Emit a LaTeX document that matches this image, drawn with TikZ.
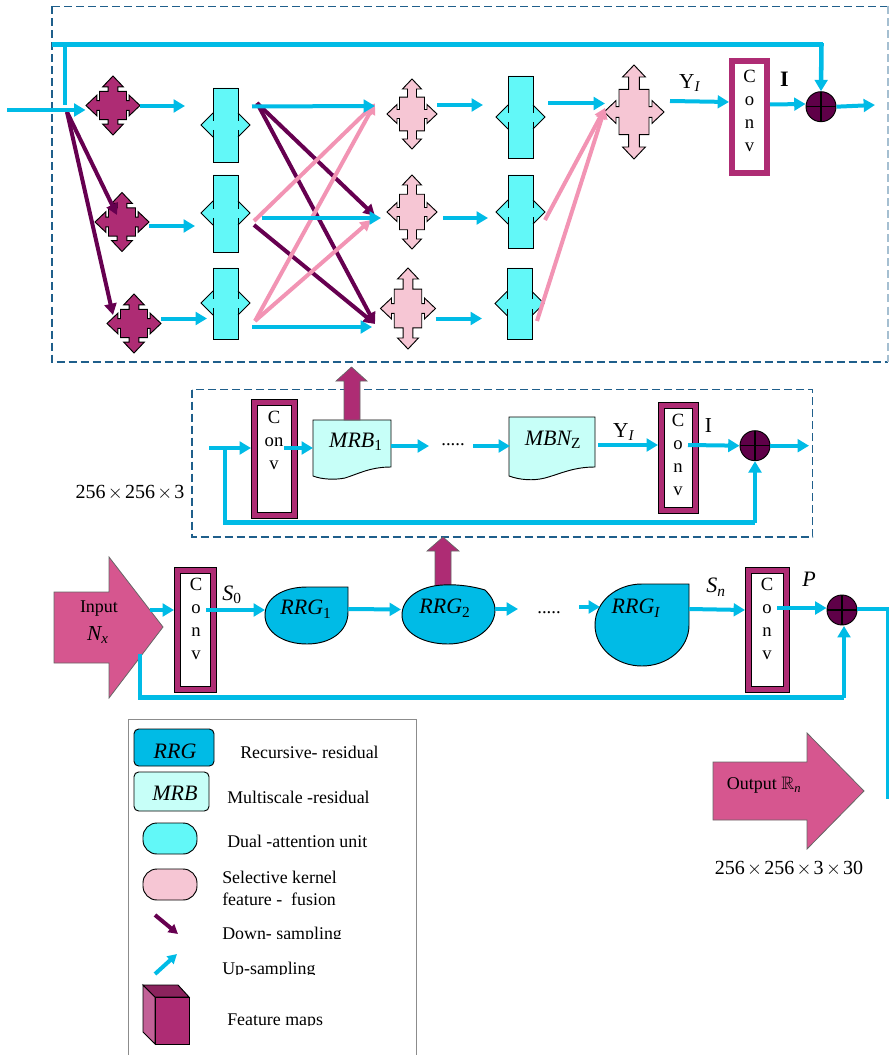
\documentclass[tikz,border=0pt]{standalone}
\usepackage{amsmath,amssymb}
\usepackage{fontspec}
\setmainfont{Liberation Serif}
\usetikzlibrary{arrows.meta,positioning,calc}
\definecolor{cyanc}{HTML}{00BBE6}
\definecolor{downc}{HTML}{660050}
\definecolor{fusc}{HTML}{F294B4}
\definecolor{convc}{HTML}{AE2C74}
\definecolor{pinkc}{HTML}{F6C6D4}
\definecolor{dualc}{HTML}{62F8F8}
\definecolor{docc}{HTML}{C7FFF8}
\definecolor{ioc}{HTML}{D6568F}
\definecolor{sumc}{HTML}{5F0048}
\definecolor{dashc}{HTML}{1F5F8B}
\newcommand{\quadarrow}[6]{%
  \pgfmathsetmacro\qbx{.5*#4}\pgfmathsetmacro\qby{.48*#5}%
  \pgfmathsetmacro\qh{.38*#4}\pgfmathsetmacro\qs{.18*#4}%
  \pgfmathsetmacro\qcx{.6*#4}\pgfmathsetmacro\qcy{#5-.4*#4}%
  \begin{scope}[shift={(#2,#3)}]
    \draw[fill=#6,line width=0.7pt,line join=miter] (0,-#5) -- (\qh,-\qcy) -- (\qs,-\qcy) -- (\qs,-\qby) -- (\qbx,-\qby) -- (\qbx,-\qs) -- (\qcx,-\qs) -- (\qcx,-\qh) -- (#4,0) -- (\qcx,\qh) -- (\qcx,\qs) -- (\qbx,\qs) -- (\qbx,\qby) -- (\qs,\qby) -- (\qs,\qcy) -- (\qh,\qcy) -- (0,#5) -- (-\qh,\qcy) -- (-\qs,\qcy) -- (-\qs,\qby) -- (-\qbx,\qby) -- (-\qbx,\qs) -- (-\qcx,\qs) -- (-\qcx,\qh) -- (-#4,0) -- (-\qcx,-\qh) -- (-\qcx,-\qs) -- (-\qbx,-\qs) -- (-\qbx,-\qby) -- (-\qs,-\qby) -- (-\qs,-\qcy) -- (-\qh,-\qcy) -- cycle;
    \node[inner sep=0pt,outer sep=0pt,minimum width={2*#4*0.75pt},minimum height={2*#5*0.75pt}] (#1) at (0,0) {};
  \end{scope}}
\newcommand{\dualunit}[5]{%
  \fill[dualc] ({#2-12.5},#3) -- ({#2+12.5},#3) -- ({#2+12.5},{#5-12}) -- ({#2+24.5},#5) -- ({#2+12.5},{#5+12}) -- ({#2+12.5},#4) -- ({#2-12.5},#4) -- ({#2-12.5},{#5+12}) -- ({#2-24.5},#5) -- ({#2-12.5},{#5-12}) -- cycle;
  \draw[line width=0.7pt] ({#2-12.5},{#5-4}) -- ({#2-12.5},#3) -- ({#2+12.5},#3) -- ({#2+12.5},{#5-4});
  \draw[line width=0.7pt] ({#2-12.5},{#5+5}) -- ({#2-12.5},#4) -- ({#2+12.5},#4) -- ({#2+12.5},{#5+5});
  \draw[line width=0.7pt] ({#2-12.5},{#5-12}) -- ({#2-24.5},#5) -- ({#2-12.5},{#5+12});
  \draw[line width=0.7pt] ({#2+12.5},{#5-12}) -- ({#2+24.5},#5) -- ({#2+12.5},{#5+12});
  \node[inner sep=0pt,outer sep=0pt,minimum width=36.75pt,minimum height={(#4-#3)*0.75pt}] (#1) at (#2,{(#3+#4)/2}) {};}
\newcommand{\tms}{\kern1.7pt$\times$\kern1.7pt}
\begin{document}
\begin{tikzpicture}[x=0.75pt,y=-0.75pt,
    upa/.style={draw=cyanc,line width=3pt,-{Triangle[length=8.5pt,width=9.5pt]}},
    bus/.style={draw=cyanc,line width=3.4pt},
    busa/.style={bus,-{Triangle[length=8.5pt,width=9.5pt]}},
    downa/.style={draw=downc,line width=3pt,-{Triangle[length=8.5pt,width=9pt]}},
    fusa/.style={draw=fusc,line width=3pt,-{Triangle[length=8pt,width=8.5pt]}},
    dashbox/.style={draw=dashc,line width=0.8pt,dash pattern=on 6pt off 3pt},
    convbox/.style 2 args={draw=black,line width=0.5pt,double=convc,double distance=4pt,fill=white,outer sep=2.5pt,inner sep=0pt,minimum width={(#1-6.67)*0.75pt},minimum height={(#2-6.67)*0.75pt}},
    convtop/.style={draw=convc,line width=4.5pt,fill=white,inner sep=0pt,outer sep=2.25pt,minimum width=26.25pt,minimum height=84pt},
    convtxt/.style={align=center,inner sep=0pt,font=\fontsize{14}{17.3}\selectfont},
    sumnode/.style={circle,draw,line width=0.7pt,fill=sumc,minimum size=22.5pt,inner sep=0pt,path picture={\draw[line width=1pt] (path picture bounding box.north) -- (path picture bounding box.south) (path picture bounding box.west) -- (path picture bounding box.east);}},
    feat/.style={draw=black!60,line width=0.5pt,fill=convc},
    blob/.style={draw,line width=0.7pt,fill=cyanc},
    doc/.style={draw,line width=0.7pt,fill=docc},
    ioarrow/.style={draw=black!60,line width=0.6pt,fill=ioc},
    bigit/.style={inner sep=0pt,font=\fontsize{16.5}{18}\selectfont\itshape},
    lbl/.style={inner sep=0pt,font=\fontsize{13}{15}\selectfont},
    lgd/.style={lbl,anchor=west,align=left,font=\fontsize{13.4}{17}\selectfont},
    num/.style={inner sep=0pt,font=\fontsize{15}{16}\selectfont},
    tag/.style={inner sep=0pt,font=\fontsize{16}{17}\selectfont},
    legbox/.style={draw,line width=0.7pt,inner sep=0pt}]
  \useasboundingbox (0,0) rectangle (889,1055);

  % top block
  \draw[dashbox] (52,6.5) -- (888,6.5);
  \draw[dashbox] (52,6.5) -- (52,362) -- (888,362);
  \draw[dashbox,draw=dashc!40] (888,6.5) -- (888,362);
  \quadarrow{qa1}{113}{105.5}{27}{29.5}{convc}
  \quadarrow{qa2}{122}{222}{27}{29.5}{convc}
  \quadarrow{qa3}{134}{323.5}{27}{29.5}{convc}
  \dualunit{da1}{225.5}{88}{162}{125}
  \dualunit{da2}{225.5}{175}{252}{213}
  \dualunit{da3}{225.5}{268}{339}{303}
  \quadarrow{qb1}{412}{114}{25}{35}{pinkc}
  \quadarrow{qb2}{412}{212}{25}{37}{pinkc}
  \quadarrow{qb3}{408}{308.5}{27.5}{40.5}{pinkc}
  \dualunit{db1}{520.5}{76}{158}{117}
  \dualunit{db2}{520.5}{175}{248}{212}
  \dualunit{db3}{519.5}{268}{339}{303.5}
  \quadarrow{qc}{634}{112}{30}{47}{pinkc}
  \node[convtop] (conva) at (749.5,117) {};
  \node[convtxt,anchor=north] (convat) at (749.5,70) {C\\o\\n\\v};
  \node[sumnode] (suma) at (821,106.7) {};
  \node[tag] (ya) at (690,83) {Y\textsubscript{\textit{I}}};
  \node[inner sep=0pt,font=\fontsize{16.5}{18}\selectfont\bfseries] (ia) at (784.5,79) {I};

  \coordinate (ina) at (7,110);
  \coordinate (inb) at (85.5,110);
  \coordinate (bus0) at (52,44.5);
  \coordinate (bus1) at (65,44.5);
  \coordinate (bus2) at (65,105);
  \coordinate (split) at (67,112);
  \coordinate (d1) at (117,215);
  \coordinate (d2) at (113,315);
  \draw[downa] (split) -- (d1);
  \draw[downa] (split) -- (d2);
  \coordinate (sa) at (257,103);
  \coordinate (sb) at (254,225);
  \coordinate (sc) at (254,221);
  \coordinate (se) at (255,321);
  \coordinate (ta) at (375,103.5);
  \coordinate (tb) at (375,216);
  \coordinate (tc) at (375,324);
  \coordinate (td) at (371,220);
  \draw[downa] (sa) -- (tb);
  \draw[downa] (sa) -- (tc);
  \draw[downa] (sb) -- (tc);
  \draw[fusa] (sc) -- (ta);
  \draw[fusa] (se) -- (ta);
  \draw[fusa] (se) -- (td);
  \coordinate (fa) at (545,220);
  \coordinate (fb) at (537,321);
  \coordinate (fc) at (605,108);
  \draw[fusa] (fa) -- (fc);
  \draw[fusa] (fb) -- (fc);
  \draw[bus] (bus0) -- (823,44.5);
  \draw[busa] (821.5,43) -- (suma.north);
  \draw[bus] (bus1) -- (bus2);
  \draw[upa] (ina) -- (inb);
  \draw[upa] (qa1.east |- 0,106) -- (185,106);
  \draw[upa] (qa2.east |- 0,226) -- (195,226);
  \draw[upa] (qa3.east |- 0,318.5) -- (207,318.5);
  \draw[upa] (252,106.5) -- (ta |- 0,106);
  \draw[upa] (262,218) -- (381,218);
  \draw[upa] (252,327) -- (372,327);
  \draw[upa] (qb1.east |- 0,105) -- (483,105);
  \draw[upa] (443,218) -- (488,218);
  \draw[upa] (qb3.east |- 0,318.5) -- (482,318.5);
  \draw[upa] (548,103.5) -- (605,103.5);
  \draw[upa] (670,101) -- (conva.west |- 0,102);
  \draw[upa] (conva.east |- 0,104.5) -- (suma.west |- 0,104);
  \draw[upa] (suma.east) -- (875,105);

  % middle block
  \draw[dashbox] (192,389.5) rectangle (812.5,537);
  \node[convbox={47}{120}] (convb) at (274.5,459) {};
  \node[convtxt,anchor=north] (convbt) at (274,411) {C\\on\\v};
  \draw[doc] (313,420) -- (391,420) -- (391,467) .. controls (370,467) and (358,474) .. (345,478) .. controls (335,480) and (322,479.5) .. (313,476) -- cycle;
  \node[bigit] (mrb) at (356,442) {MRB\textsubscript{\upshape 1}};
  \draw[doc] (509,417) -- (595,417) -- (595,467) .. controls (573,467) and (560,474) .. (545,478) .. controls (533,481) and (520,480) .. (509,476) -- cycle;
  \node[bigit] (mbn) at (553,440) {MBN\textsubscript{\upshape Z}};
  \node[convbox={41}{112}] (convc) at (678.5,458) {};
  \node[convtxt,anchor=north] (convct) at (678,414) {C\\o\\n\\v};
  \node[sumnode] (sumb) at (755,445.7) {};
  \node[lbl,font=\fontsize{14}{16}\selectfont] (dotsb) at (453,445) {.....};
  \node[tag] (yb) at (624,432) {Y\textsubscript{\textit{I}}};
  \node[tag] (ib) at (708.5,426) {I};
  \node[num] (dima) at (130,493) {256\tms 256\tms 3};
  \draw[feat] (344,420) -- (344,381) -- (336,381) -- (351.5,367) -- (367,381) -- (360,381) -- (360,420) -- cycle;

  \coordinate (mid0) at (209,448);
  \coordinate (mid1) at (225,448);
  \coordinate (mid2) at (225,522.5);
  \coordinate (mid3) at (755,522.5);
  \draw[bus] (mid1) -- (mid2) -- (mid3);
  \draw[busa] (mid3) -- (sumb.south);
  \draw[upa] (mid0) -- (mid0 -| convb.west);
  \draw[upa] (284,448) -- (313,448);
  \draw[upa] (391,446) -- (429,446);
  \draw[upa] (473,446) -- (510,446);
  \draw[upa] (598,445) -- (658,445);
  \draw[upa] (688,445) -- (sumb.west);
  \draw[upa] (sumb.east) -- (809,445.7);

  % bottom row
  \draw[ioarrow] (54,592) -- (109,592) -- (109,557) -- (163,627) -- (109,698) -- (109,663) -- (54,663) -- cycle;
  \node[lbl,font=\fontsize{13.5}{15}\selectfont] (inp) at (99,609) {Input};
  \node[bigit,font=\fontsize{16}{18}\selectfont\itshape] (nx) at (98,635) {N\textsubscript{x}};
  \node[convbox={43}{126}] (convd) at (195.5,630) {};
  \node[convtxt,anchor=north] (convdt) at (196,578) {C\\o\\n\\v};
  \node[bigit] (szero) at (232,595) {S\textsubscript{\upshape 0}};
  \draw[blob] (348,587) -- (348,612) .. controls (348,632) and (330,644) .. (307,644) .. controls (283,644) and (265,632) .. (265,615) .. controls (265,598) and (283,587) .. (307,587) -- cycle;
  \node[bigit] (rrga) at (306,609) {RRG\textsubscript{\upshape 1}};
  \draw[feat] (435,587) -- (435,551) -- (427,551) -- (443,537) -- (459,551) -- (451,551) -- (451,587) -- cycle;
  \draw[blob] (443,585) .. controls (460,584) and (475,587) .. (485,590) .. controls (491,596) and (495,602) .. (495,610) .. controls (495,630) and (472,644) .. (448,644) .. controls (422,644) and (402,632) .. (402,615) .. controls (402,598) and (420,586) .. (443,585) -- cycle;
  \node[bigit] (rrgb) at (445,608) {RRG\textsubscript{\upshape 2}};
  \node[lbl,font=\fontsize{14}{16}\selectfont] (dotsa) at (549,613) {.....};
  \draw[blob] (689,584) -- (689,625) .. controls (689,648) and (668,666) .. (642,666) .. controls (616,666) and (595,648) .. (595,625) .. controls (595,602) and (616,584) .. (642,584) -- cycle;
  \node[bigit] (rrgc) at (636,608) {RRG\textsubscript{I}};
  \node[bigit] (sn) at (716,587) {S\textsubscript{n}};
  \node[convbox={45}{126}] (conve) at (767.5,630) {};
  \node[convtxt,anchor=north] (convet) at (767,578) {C\\o\\n\\v};
  \node[bigit] (pp) at (809,579) {P};
  \node[sumnode] (sumc) at (842,610) {};

  \coordinate (low0) at (140,654);
  \coordinate (low1) at (140,697.5);
  \coordinate (low2) at (844,697.5);
  \draw[bus] (low0) -- (low1) -- (low2);
  \draw[busa] (low2) -- (844,626);
  \draw[upa] (150,610) -- (150,610 -| convd.west);
  \draw[upa] (206,610) -- (265,610);
  \draw[upa] (348,609) -- (401,609.5);
  \draw[upa] (495,609) -- (518,609);
  \draw[upa] (579,607) -- (600,607);
  \draw[upa] (689,609) -- (745,610);
  \draw[upa] (777,608) -- (sumc.west |- 0,608);
  \coordinate (outa) at (887.5,609);
  \draw[bus,line width=2.6pt] (sumc.east |- outa) -- (outa) -- (887.5,799);

  % output
  \draw[ioarrow] (713,762) -- (807,762) -- (807,733) -- (864,791) -- (807,849) -- (807,820) -- (713,820) -- cycle;
  \node[lbl,font=\fontsize{13.5}{15}\selectfont] (outp) at (764,785) {Output $\mathbb{R}$\textsubscript{\textit{n}}};
  \node[num] (dimb) at (789,869) {256\tms 256\tms 3\tms 30};

  % legend
  \draw[draw=black!45,line width=0.7pt] (128,1056) -- (128,719.5) -- (416,719.5) -- (416,1056);
  \node[legbox,fill=cyanc,rounded corners=3.5pt,minimum width=60pt,minimum height=27.75pt] (lrrg) at (174,747.5) {};
  \node[bigit] (lrrgt) at (175,751) {RRG};
  \node[lgd] (lrrgl) at (240,752) {Recursive- residual};
  \node[legbox,fill=docc,rounded corners=3.5pt,minimum width=56.25pt,minimum height=29.25pt] (lmrb) at (171.5,791.5) {};
  \node[bigit] (lmrbt) at (175,793) {MRB};
  \node[lgd] (lmrbl) at (227,797) {Multiscale -residual};
  \node[legbox,fill=dualc,rounded corners=10.5pt,minimum width=40.5pt,minimum height=23.25pt] (ldual) at (170,838.5) {};
  \node[lgd] (lduall) at (227,841) {Dual -attention unit};
  \node[legbox,fill=pinkc,rounded corners=10.5pt,minimum width=40.5pt,minimum height=23.25pt] (lskf) at (170,884.5) {};
  \node[lgd] (lskfl) at (222,888.5) {Selective kernel\\feature -\ \ fusion};
  \coordinate (ldowna) at (155,915);
  \coordinate (ldownb) at (178,934);
  \draw[downa,-{Triangle[length=7pt,width=7.5pt]}] (ldowna) -- (ldownb);
  \coordinate (lupa) at (155,974);
  \coordinate (lupb) at (177,954);
  \draw[upa,-{Triangle[length=7pt,width=7.5pt]}] (lupa) -- (lupb);
  \begin{scope}
    \clip (220,922) rectangle (350,938) (220,958) rectangle (350,974) (220,1008) rectangle (350,1025);
    \node[lgd] (ldownl) at (222,935.5) {Down- sampling};
    \node[lgd] (lupl) at (222,970.5) {Up-sampling};
    \node[lgd] (lfeat) at (227,1021.5) {Feature maps};
  \end{scope}
  \draw[line width=0.7pt,fill=convc!75!white] (143,985) -- (155,997) -- (155,1044) -- (143,1032) -- cycle;
  \draw[line width=0.7pt,fill=convc!80!black] (143,985) -- (178,985) -- (189,997) -- (155,997) -- cycle;
  \draw[line width=0.7pt,fill=convc] (155,997) rectangle (189,1044);
\end{tikzpicture}
\end{document}
